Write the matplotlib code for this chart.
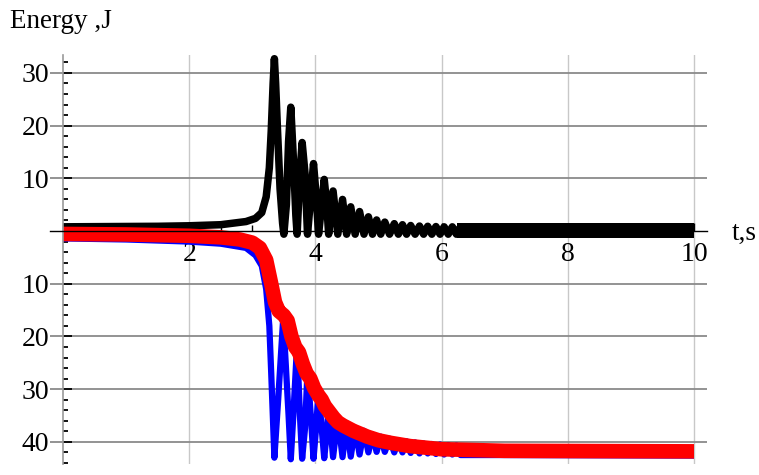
import matplotlib
matplotlib.use('Agg')
import matplotlib.pyplot as plt
from matplotlib.ticker import FixedLocator, MultipleLocator, FixedFormatter

# ---------------- data ----------------
# black curve (oscillating energy)
black_t = [0.00, 1.50, 2.00, 2.50, 2.90, 3.05, 3.15, 3.22, 3.27, 3.30, 3.33, 3.35, 3.37, 3.40, 3.44, 3.48, 3.50,
           3.54, 3.575, 3.61, 3.65, 3.69, 3.71,
           3.755, 3.79, 3.835, 3.875,
           3.93, 3.97, 4.01, 4.05,
           4.10, 4.14, 4.18, 4.21,
           4.28, 4.355, 4.43, 4.495, 4.56, 4.63, 4.70, 4.77, 4.84, 4.905, 4.97, 5.035,
           5.10, 5.175, 5.25, 5.315, 5.38, 5.445, 5.51, 5.58, 5.65, 5.715, 5.78, 5.845,
           5.91, 5.975, 6.04, 6.105, 6.17, 6.235, 6.30]
black_e = [0.8, 0.9, 1.0, 1.2, 1.8, 2.4, 3.5, 6.5, 12.0, 19.0, 28.0, 32.7, 28.0, 19.0, 8.0, 1.5, -0.6,
           5.0, 17.0, 23.5, 14.0, 3.0, -0.6,
           11.0, 16.8, 11.0, -0.6,
           7.0, 12.8, 7.0, -0.6,
           5.0, 9.8, 5.0, -0.6,
           7.6, -0.6, 6.0, -0.6, 4.6, -0.6, 3.7, -0.6, 2.7, -0.6, 2.1, -0.6,
           1.7, -0.6, 1.4, -0.6, 1.2, -0.6, 1.05, -0.6, 0.95, -0.6, 0.9, -0.6,
           0.85, -0.6, 0.8, -0.6, 0.8, -0.6, 0.8]
# black tail: dense oscillation band
tail_t = [6.25, 10.0]
tail_hi = [1.52, 1.52]
tail_lo = [-1.33, -1.33]

# blue curve
blue_t = [0.0, 1.0, 2.0, 2.5, 2.9, 3.05, 3.15, 3.22, 3.27, 3.30, 3.35, 3.41, 3.49,
          3.575, 3.61, 3.65, 3.71, 3.755, 3.79, 3.835, 3.875, 3.93, 3.97, 4.01, 4.05,
          4.10, 4.14, 4.18, 4.21, 4.28, 4.355, 4.43, 4.495, 4.56, 4.63, 4.70, 4.77,
          4.84, 4.905, 4.97, 5.035, 5.10, 5.175, 5.25, 5.315, 5.38, 5.445, 5.51, 5.58,
          5.65, 5.715, 5.78, 5.845, 5.91, 5.975, 6.04, 6.105, 6.17, 6.235, 6.30, 7.0, 10.0]
blue_e = [-1.4, -1.6, -2.0, -2.4, -3.2, -4.6, -6.6, -11.0, -18.0, -27.0, -43.0, -32.0, -16.5,
          -35.0, -43.3, -35.0, -21.5, -35.0, -43.2, -37.5, -26.5, -35.5, -43.2, -37.5, -30.3,
          -37.5, -43.1, -38.3, -33.3, -42.9, -35.3, -42.9, -36.5, -42.8, -37.3, -42.4, -37.9,
          -42.0, -38.6, -41.9, -39.0, -41.9, -39.4, -42.0, -39.7, -42.0, -39.9, -42.1, -40.1,
          -42.2, -40.3, -42.2, -40.4, -42.3, -40.5, -42.4, -40.6, -42.4, -40.7, -42.5, -42.5, -42.6]

# red curve
red_t = [0.0, 1.0, 2.0, 2.5, 2.8, 3.0, 3.12, 3.22, 3.30, 3.36,
         3.42, 3.50, 3.56, 3.62, 3.68, 3.74, 3.80, 3.86, 3.92, 3.98,
         4.05, 4.10, 4.15, 4.22, 4.29, 4.36, 4.44, 4.52, 4.60, 4.70,
         4.82, 5.00, 5.20, 5.50, 6.00, 7.00, 10.0]
red_e = [-0.55, -0.65, -0.9, -1.2, -1.6, -2.2, -3.2, -5.5, -10.0, -13.5,
         -15.2, -16.0, -17.0, -20.0, -22.0, -23.0, -25.2, -27.0, -28.0, -29.8,
         -31.2, -32.0, -33.2, -34.3, -35.4, -36.3, -36.9, -37.4, -37.9, -38.4,
         -39.0, -39.7, -40.2, -40.8, -41.4, -41.7, -41.8]

x_ticks = [2, 4, 6, 8, 10]
x_tick_labels = ["2", "4", "6", "8", "10"]
y_ticks = [-40, -30, -20, -10, 0, 10, 20, 30]
y_tick_labels = ["40", "30", "20", "10", "", "10", "20", "30"]
y_label = "Energy ,J"
x_label = "t,s"

# ---------------- figure ----------------
plt.rcParams['font.family'] = ['Liberation Serif', 'DejaVu Serif']

fig = plt.figure(figsize=(7.59, 4.75), dpi=100)
ax = fig.add_axes([50 / 759, 1 - 464 / 475, 657 / 759, 409 / 475])
ax.set_xlim(-0.206, 10.206)
ax.set_ylim(-44.2, 33.4)

for v in x_ticks:
    ax.axvline(v, color='#c8c8c8', lw=1.0, zorder=0.5)
for v in y_ticks:
    if v != 0:
        ax.axhline(v, color='#8a8a8a', lw=1.3, zorder=0.5)

ax.plot(black_t, black_e, color='black', lw=5.4, solid_joinstyle='round',
        solid_capstyle='butt', zorder=2)
ax.fill_between(tail_t, tail_lo, tail_hi, color='black', lw=0, zorder=2)
ax.plot(blue_t, blue_e, color='#0000ff', lw=4.5, solid_joinstyle='round',
        solid_capstyle='butt', zorder=2.1)
ax.plot(red_t, red_e, color='#ff0000', lw=10.5, solid_joinstyle='round',
        solid_capstyle='butt', zorder=2.2)

for s in ['top', 'right']:
    ax.spines[s].set_visible(False)
ax.spines['left'].set_position(('data', 0))
ax.spines['left'].set_color('#9a9a9a')
ax.spines['left'].set_linewidth(1.2)
ax.spines['bottom'].set_position(('data', 0))
ax.spines['bottom'].set_color('black')
ax.spines['bottom'].set_linewidth(1.0)
for s in ['left', 'bottom']:
    ax.spines[s].set_zorder(3)

ax.xaxis.set_major_locator(FixedLocator(x_ticks))
ax.xaxis.set_major_formatter(FixedFormatter(x_tick_labels))
ax.xaxis.set_minor_locator(MultipleLocator(0.5))
ax.yaxis.set_major_locator(FixedLocator(y_ticks))
ax.yaxis.set_major_formatter(FixedFormatter(y_tick_labels))
ax.yaxis.set_minor_locator(MultipleLocator(2))

ax.tick_params(axis='x', which='major', direction='in', length=6, width=1.0,
               labelsize=20, pad=8, color='black')
ax.tick_params(axis='x', which='minor', direction='in', length=4, width=1.0, color='black')
ax.tick_params(axis='y', which='major', direction='in', length=6.5, width=1.3,
               labelsize=20, pad=10, color='black')
ax.tick_params(axis='y', which='minor', direction='in', length=3.3, width=1.3, color='black')

fig.text(10 / 759, 1 - 28 / 475, y_label, fontsize=19.5, ha='left', va='baseline')
fig.text(732 / 759, 1 - 240 / 475, x_label, fontsize=19.5, ha='left', va='baseline')

fig.savefig('out.png', dpi=100)
